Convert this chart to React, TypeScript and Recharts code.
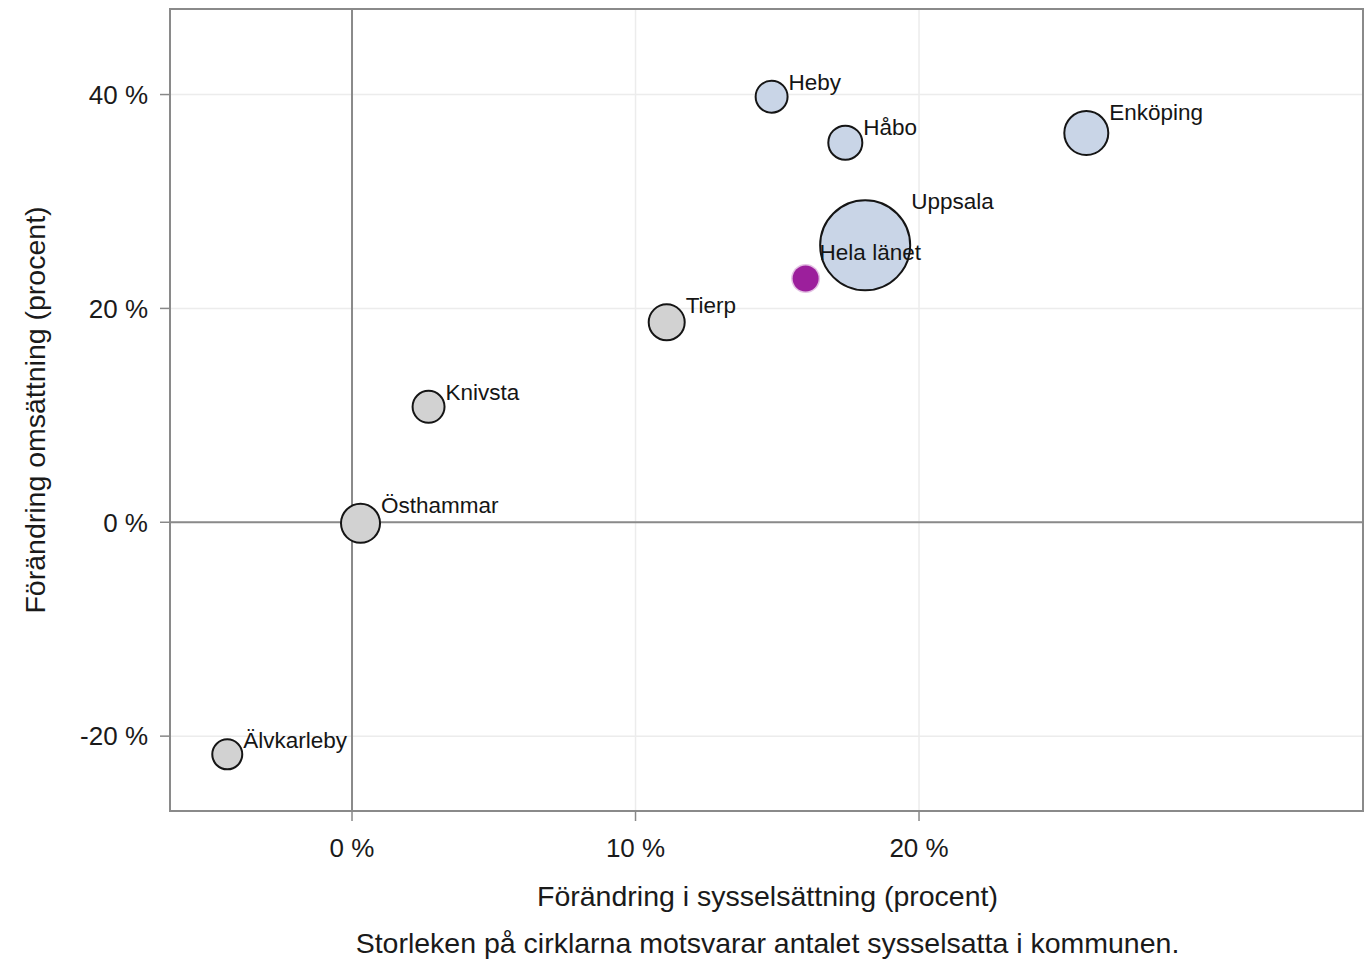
import React from 'react';
import { ScatterChart, Scatter, XAxis, YAxis, ZAxis, CartesianGrid, ReferenceLine, ReferenceArea } from 'recharts';

// Kommuner, förändring i sysselsättning (x) och omsättning (y), i procent
const kommuner = ['Heby', 'Håbo', 'Enköping', 'Uppsala', 'Tierp', 'Knivsta', 'Östhammar', 'Älvkarleby'];
const sysselsattningForandring = [14.8, 17.4, 25.9, 18.1, 11.1, 2.7, 0.3, -4.4];
const omsattningForandring = [39.8, 35.5, 36.4, 25.9, 18.7, 10.8, -0.1, -21.7];
// relativ storlek (antal sysselsatta, Uppsala = 100)
const sysselsatta = [12.6, 14.3, 23.9, 100, 16, 12.6, 18.8, 11.1];
const grupp = ['blå', 'blå', 'blå', 'blå', 'grå', 'grå', 'grå', 'grå'];

const helaLanet = { name: 'Hela länet', x: 16.0, y: 22.8 };

const xTicks = [0, 10, 20];
const yTicks = [-20, 0, 20, 40];
const xDomain: [number, number] = [-6.42, 35.66];
const yDomain: [number, number] = [-27, 48];

const rows = kommuner.map((name, i) => ({
  name,
  x: sysselsattningForandring[i],
  y: omsattningForandring[i],
  z: sysselsatta[i],
  grupp: grupp[i],
}));
const blaData = rows.filter((r) => r.grupp === 'blå');
const graData = rows.filter((r) => r.grupp === 'grå');

const FONT = 'Arial, "Liberation Sans", sans-serif';

const Bubble = (props: any) => {
  const { cx, cy, width, payload, fill } = props;
  const r = width / 2;
  return (
    <g>
      <circle cx={cx} cy={cy} r={r} fill={fill} stroke="#151515" strokeWidth={2} />
      <text
        x={cx + r + 1}
        y={cy - r + 3}
        dominantBaseline="middle"
        fontSize={22.5}
        fontFamily={FONT}
        fill="#151515"
      >
        {payload.name}
      </text>
    </g>
  );
};

const LanetDot = (props: any) => {
  const { cx, cy, width, payload } = props;
  const r = width / 2;
  return (
    <g>
      <circle cx={cx} cy={cy} r={r + 1.5} fill="#b04cb0" opacity={0.35} />
      <circle cx={cx} cy={cy} r={r} fill="#9c1f9c" />
      <text
        x={cx + r + 1}
        y={cy - r - 11}
        dominantBaseline="middle"
        fontSize={22.5}
        fontFamily={FONT}
        fill="#151515"
      >
        {payload.name}
      </text>
    </g>
  );
};

const tickStyle = { fontSize: 26, fontFamily: FONT, fill: '#1a1a1a' };
const titleStyle: React.CSSProperties = {
  position: 'absolute',
  left: 0,
  width: 1365,
  textAlign: 'center',
  fontSize: 28.5,
  color: '#1a1a1a',
  paddingLeft: 170,
  boxSizing: 'border-box',
};

export default function App() {
  return (
    <div style={{ position: 'absolute', left: 0, top: 0, width: 1365, height: 960, background: '#fff', fontFamily: FONT }}>
      <ScatterChart width={1365} height={960} margin={{ top: 9, right: 2, bottom: 89, left: 0 }}>
        <CartesianGrid stroke="#ececec" strokeWidth={1.5} horizontalValues={yTicks} verticalValues={xTicks} />
        <XAxis
          type="number"
          dataKey="x"
          domain={xDomain}
          ticks={xTicks}
          allowDataOverflow
          tickFormatter={(v) => `${v} %`}
          tick={tickStyle}
          tickSize={10}
          tickMargin={18}
          height={60}
          axisLine={false}
          tickLine={{ stroke: '#888', strokeWidth: 1.5 }}
        />
        <YAxis
          type="number"
          dataKey="y"
          domain={yDomain}
          ticks={yTicks}
          allowDataOverflow
          tickFormatter={(v) => `${v} %`}
          tick={tickStyle}
          tickSize={10}
          tickMargin={12}
          width={170}
          axisLine={false}
          tickLine={{ stroke: '#888', strokeWidth: 1.5 }}
        />
        <ZAxis type="number" dataKey="z" domain={[0, 100]} range={[0, Math.PI * 45 * 45]} />
        <ZAxis zAxisId="lan" type="number" dataKey="z" range={[Math.PI * 13 * 13, Math.PI * 13 * 13]} />
        <ReferenceArea x1={xDomain[0]} x2={xDomain[1]} y1={yDomain[0]} y2={yDomain[1]} fill="none" stroke="#8a8a8a" strokeWidth={2} fillOpacity={0} />
        <ReferenceLine x={0} stroke="#8a8a8a" strokeWidth={2} />
        <ReferenceLine y={0} stroke="#8a8a8a" strokeWidth={2} />
        <Scatter data={graData} fill="#d2d2d2" shape={<Bubble />} isAnimationActive={false} />
        <Scatter data={blaData} fill="#c9d5e7" shape={<Bubble />} isAnimationActive={false} />
        <Scatter data={[{ ...helaLanet, z: 1 }]} zAxisId="lan" fill="#9c1f9c" shape={<LanetDot />} isAnimationActive={false} />
      </ScatterChart>
      <div style={{ ...titleStyle, top: 880 }}>Förändring i sysselsättning (procent)</div>
      <div style={{ ...titleStyle, top: 927 }}>Storleken på cirklarna motsvarar antalet sysselsatta i kommunen.</div>
      <div style={{ position: 'absolute', left: 35, top: 410, width: 0, height: 0 }}>
        <div style={{ position: 'absolute', transform: 'translate(-50%, -50%) rotate(-90deg)', whiteSpace: 'nowrap', fontSize: 28.5, color: '#1a1a1a' }}>
          Förändring omsättning (procent)
        </div>
      </div>
    </div>
  );
}
